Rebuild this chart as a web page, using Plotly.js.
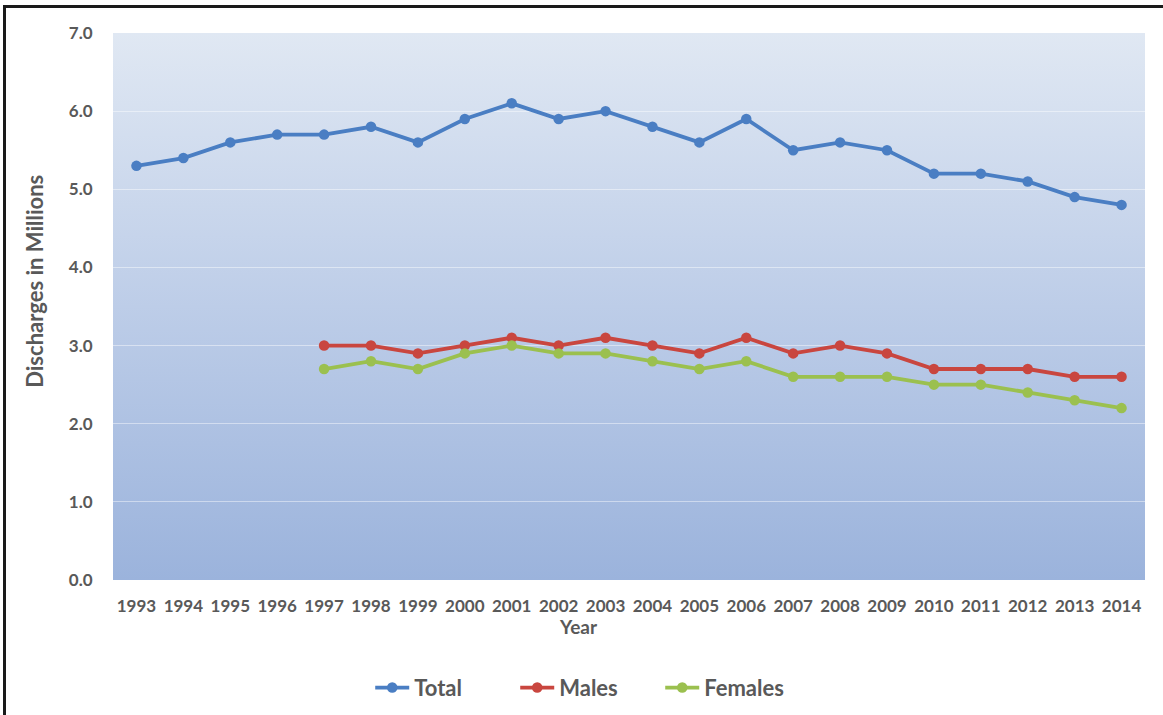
<!DOCTYPE html>
<html>
<head>
<meta charset="utf-8">
<script src="https://cdn.plot.ly/plotly-3.0.1.min.js"></script>
<style>
html,body{margin:0;padding:0;background:#fff;}
#chart{width:1163px;height:715px;}
#frame{position:absolute;left:3px;top:5px;width:1200px;height:800px;border-top:3px solid #1a1a1a;border-left:3px solid #1a1a1a;pointer-events:none;}
</style>
</head>
<body>
<div id="chart"></div>
<div id="frame"></div>
<script>
const years = ['1993','1994','1995','1996','1997','1998','1999','2000','2001','2002','2003','2004','2005','2006','2007','2008','2009','2010','2011','2012','2013','2014'];
const total = [5.3,5.4,5.6,5.7,5.7,5.8,5.6,5.9,6.1,5.9,6.0,5.8,5.6,5.9,5.5,5.6,5.5,5.2,5.2,5.1,4.9,4.8];
const males = [null,null,null,null,3.0,3.0,2.9,3.0,3.1,3.0,3.1,3.0,2.9,3.1,2.9,3.0,2.9,2.7,2.7,2.7,2.6,2.6];
const females = [null,null,null,null,2.7,2.8,2.7,2.9,3.0,2.9,2.9,2.8,2.7,2.8,2.6,2.6,2.6,2.5,2.5,2.4,2.3,2.2];
const yTicks = [0,1,2,3,4,5,6,7];
const yTickText = ['0.0','1.0','2.0','3.0','4.0','5.0','6.0','7.0'];

const textColor = '#595959';
const font = 'Lato, "Open Sans", sans-serif';

function mk(name, y, color){
  return {
    x: years, y: y, name: name, type: 'scatter', mode: 'lines+markers',
    line: {color: color, width: 3.8},
    marker: {color: color, size: 10.5},
    connectgaps: false
  };
}

const grad = 'data:image/svg+xml;utf8,' + encodeURIComponent(
  '<svg xmlns="http://www.w3.org/2000/svg" width="100" height="100" preserveAspectRatio="none">' +
  '<defs><linearGradient id="g" x1="0" y1="0" x2="0" y2="1">' +
  '<stop offset="0" stop-color="#e0e8f3"/><stop offset="0.5" stop-color="#bdcde8"/><stop offset="1" stop-color="#9bb3dc"/>' +
  '</linearGradient></defs><rect width="100" height="100" fill="url(#g)"/></svg>');

const layout = {
  width: 1163, height: 715,
  margin: {l: 113, r: 18, t: 33, b: 135, autoexpand: false},
  paper_bgcolor: '#ffffff',
  plot_bgcolor: 'rgba(0,0,0,0)',
  font: {family: font, color: textColor, size: 17, weight: 'bold'},
  showlegend: true,
  legend: {
    orientation: 'h', x: 0.46, xanchor: 'center', y: -0.197, yanchor: 'middle',
    font: {family: font, size: 22, color: textColor, weight: 'bold'},
    itemwidth: 34, entrywidth: 96, entrywidthmode: 'pixels'
  },
  xaxis: {
    type: 'category', range: [-0.5, 21.5],
    showgrid: false, zeroline: false, showline: false,
    ticks: 'outside', ticklen: 11, tickcolor: 'rgba(0,0,0,0)',
    tickfont: {family: font, size: 17, color: textColor, weight: 'bold'},
    fixedrange: true
  },
  yaxis: {
    range: [0, 7], tickvals: yTicks, ticktext: yTickText,
    showgrid: true, gridcolor: 'rgba(255,255,255,0.45)', gridwidth: 1,
    zeroline: false, showline: false,
    ticks: 'outside', ticklen: 16, tickcolor: 'rgba(0,0,0,0)',
    tickfont: {family: font, size: 17, color: textColor, weight: 'bold'},
    fixedrange: true
  },
  annotations: [{
    text: 'Year', xref: 'paper', yref: 'paper', x: 0.4506, y: -0.085,
    xanchor: 'center', yanchor: 'middle', showarrow: false,
    font: {family: font, size: 19, color: textColor, weight: 'bold'}
  }, {
    text: 'Discharges in Millions', xref: 'paper', yref: 'paper', x: -0.0756, y: 0.547,
    xanchor: 'center', yanchor: 'middle', showarrow: false, textangle: -90,
    font: {family: font, size: 22, color: textColor, weight: 'bold'}
  }],
  images: [{
    source: grad, xref: 'paper', yref: 'paper', x: 0, y: 1, sizex: 1, sizey: 1,
    xanchor: 'left', yanchor: 'top', sizing: 'stretch', layer: 'below'
  }]
};

Plotly.newPlot('chart', [mk('Total', total, '#4a7ec3'), mk('Males', males, '#c9463f'), mk('Females', females, '#9bc04f')], layout, {displayModeBar: false, staticPlot: true});
</script>
</body>
</html>
